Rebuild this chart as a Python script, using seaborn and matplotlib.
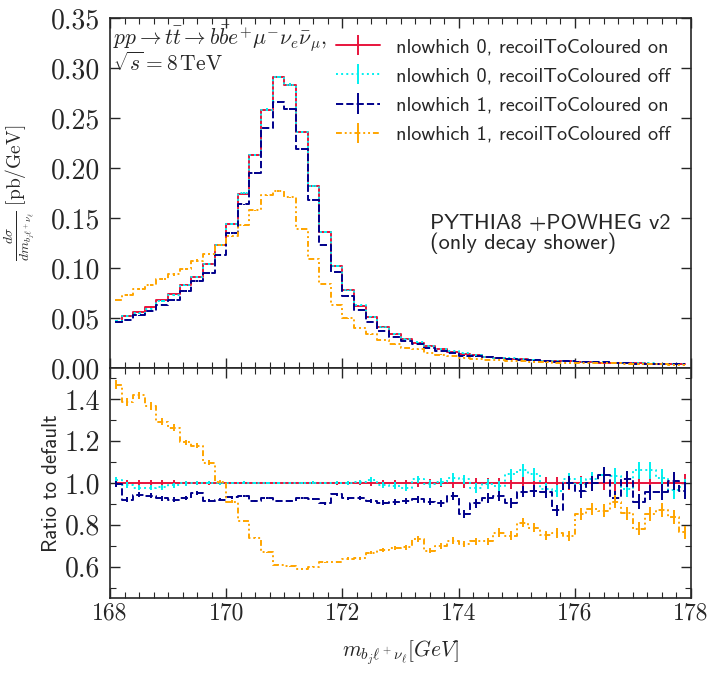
import numpy as np
import pandas as pd
import matplotlib
matplotlib.use("Agg")
import matplotlib.pyplot as plt
from matplotlib.legend_handler import HandlerTuple
from matplotlib.ticker import MultipleLocator
import seaborn as sns

# 50 bins of 0.2 GeV between 168 and 178, values at the bin centres
mass = np.linspace(168.1, 177.9, 50)

# default sample (nlowhich 0, recoilToColoured on), pb/GeV
nominal = [0.0463, 0.0523, 0.0558, 0.0608, 0.0685, 0.0740, 0.0827, 0.0912, 0.1040, 0.1226,
           0.1444, 0.1745, 0.2133, 0.2580, 0.2910, 0.2835, 0.2360, 0.1820, 0.1360, 0.1020,
           0.0777, 0.0625, 0.0507, 0.0412, 0.0345, 0.0295, 0.0255, 0.0220, 0.0190, 0.0165,
           0.0145, 0.0128, 0.0114, 0.0103, 0.0094, 0.0086, 0.0080, 0.0075, 0.0070, 0.0066,
           0.0062, 0.0058, 0.0055, 0.0052, 0.0049, 0.0046, 0.0044, 0.0042, 0.0040, 0.0038]

# ratios to default
ratio_n0_off = [1.015, 0.990, 0.978, 0.977, 0.979, 0.990, 0.998, 1.000, 1.002, 1.000,
                1.000, 1.002, 0.999, 1.001, 1.000, 1.000, 0.999, 1.002, 1.000, 1.001,
                1.000, 1.003, 1.015, 0.990, 0.988, 0.978, 1.017, 0.994, 1.006, 1.025,
                1.017, 0.978, 0.994, 0.986, 1.041, 1.060, 1.041, 0.970, 0.962, 1.017,
                0.994, 1.020, 1.040, 1.033, 0.970, 1.060, 1.060, 1.025, 0.965, 0.980]
ratio_n1_on = [0.995, 0.921, 0.943, 0.940, 0.927, 0.921, 0.927, 0.951, 0.916, 0.921,
               0.932, 0.937, 0.916, 0.930, 0.914, 0.914, 0.927, 0.922, 0.902, 0.946,
               0.927, 0.930, 0.914, 0.906, 0.910, 0.914, 0.922, 0.911, 0.902, 0.938,
               0.851, 0.902, 0.927, 0.938, 0.906, 0.959, 0.962, 0.955, 0.870, 1.002,
               0.962, 0.998, 1.038, 0.927, 1.018, 0.911, 0.955, 0.955, 1.010, 0.963]
ratio_n1_off = [1.471, 1.387, 1.419, 1.368, 1.294, 1.265, 1.194, 1.178, 1.098, 1.006,
                0.911, 0.817, 0.739, 0.669, 0.608, 0.602, 0.589, 0.600, 0.620, 0.620,
                0.638, 0.640, 0.667, 0.679, 0.688, 0.692, 0.732, 0.676, 0.700, 0.724,
                0.708, 0.721, 0.721, 0.763, 0.748, 0.811, 0.787, 0.750, 0.763, 0.745,
                0.852, 0.875, 0.867, 0.911, 0.855, 0.782, 0.852, 0.871, 0.836, 0.764]

# relative statistical uncertainty per bin
rel_err = [0.014, 0.014, 0.013, 0.013, 0.012, 0.012, 0.011, 0.010, 0.009, 0.008,
           0.007, 0.006, 0.005, 0.005, 0.004, 0.004, 0.005, 0.006, 0.007, 0.008,
           0.009, 0.010, 0.012, 0.013, 0.015, 0.016, 0.018, 0.019, 0.020, 0.022,
           0.023, 0.024, 0.025, 0.026, 0.027, 0.028, 0.029, 0.030, 0.031, 0.032,
           0.033, 0.034, 0.035, 0.036, 0.037, 0.038, 0.039, 0.040, 0.041, 0.042]

labels = ["nlowhich 0, recoilToColoured on", "nlowhich 0, recoilToColoured off",
          "nlowhich 1, recoilToColoured on", "nlowhich 1, recoilToColoured off"]
colors = ["#e8143c", "#00f0f0", "#00008b", "#ffa500"]
styles = ["-", ":", "--", (0, (3, 1.5, 1, 1.5, 1, 1.5))]

sns.set_style("ticks")
plt.rcParams["font.family"] = ["cmr10", "DejaVu Sans"]
plt.rcParams["mathtext.fontset"] = "cm"
plt.rcParams["axes.formatter.use_mathtext"] = True
sans = "cmss10"

fig = plt.figure(figsize=(7.23, 6.80), dpi=100)
ax = fig.add_axes([110 / 723, 312 / 680, 581 / 723, 350 / 680])
rax = fig.add_axes([110 / 723, 82 / 680, 581 / 723, 230 / 680], sharex=ax)

nom = np.array(nominal)
err = np.array(rel_err)
ratios = [np.ones(50), np.array(ratio_n0_off), np.array(ratio_n1_on), np.array(ratio_n1_off)]

handles = []
for lab, c, ls, r in zip(labels, colors, styles, ratios):
    # the lower panel is series / default, so the series itself is default * ratio
    vals = nom * r
    df = pd.DataFrame({"m": mass, "y": vals, "r": r})
    sns.lineplot(data=df, x="m", y="y", ax=ax, drawstyle="steps-mid", color=c,
                 linestyle=ls, lw=1.4, errorbar=None)
    line = ax.lines[-1]
    eb = ax.errorbar(mass, vals, yerr=vals * err, fmt="none", ecolor=c, elinewidth=1.4)
    sns.lineplot(data=df, x="m", y="r", ax=rax, drawstyle="steps-mid", color=c,
                 linestyle=ls, lw=1.4, errorbar=None)
    rax.errorbar(mass, r, yerr=r * err, fmt="none", ecolor=c, elinewidth=1.4)
    handles.append((line, eb))

ax.legend(handles, labels, handler_map={tuple: HandlerTuple(ndivide=1)},
          loc="upper right", frameon=False, prop={"family": sans, "size": 14.5},
          handlelength=2.2, handletextpad=0.8, labelspacing=0.55, borderaxespad=0.6)

ax.text(0.006, 0.985, r"$pp \to t\bar{t} \to b\bar{b}e^{+}\mu^{-}\nu_{e}\bar{\nu}_{\mu},$",
        transform=ax.transAxes, fontsize=15.5, va="top", ha="left")
ax.text(0.006, 0.905, r"$\sqrt{s} = 8\,\mathrm{TeV}$",
        transform=ax.transAxes, fontsize=15.5, va="top", ha="left")
ax.text(0.551, 0.44, "PYTHIA8 +POWHEG v2\n(only decay shower)", transform=ax.transAxes,
        fontsize=16, family=sans, va="top", ha="left", linespacing=0.95)

ax.set_xlim(168, 178)
ax.set_ylim(0, 0.35)
rax.set_ylim(0.45, 1.55)
ax.yaxis.set_major_locator(MultipleLocator(0.05))
ax.xaxis.set_major_locator(MultipleLocator(2))
ax.xaxis.set_minor_locator(MultipleLocator(0.25))
rax.yaxis.set_major_locator(MultipleLocator(0.2))
rax.yaxis.set_minor_locator(MultipleLocator(0.1))
ax.yaxis.set_major_formatter(plt.FormatStrFormatter("%.2f"))
rax.yaxis.set_major_formatter(plt.FormatStrFormatter("%.1f"))
rax.xaxis.set_major_formatter(plt.FormatStrFormatter("%d"))
for a in (ax, rax):
    a.tick_params(which="both", direction="in", top=True, right=True)
    a.tick_params(axis="y", labelsize=20, pad=7)
    a.tick_params(axis="x", labelsize=17)
    a.tick_params(which="major", length=7, width=1)
    a.tick_params(which="minor", length=4, width=0.8)
    for s in a.spines.values():
        s.set_linewidth(1.2)
ax.tick_params(labelbottom=False)

ax.set_xlabel("")
ax.set_ylabel(r"$\frac{d\sigma}{dm_{b_j\ell^+\nu_\ell}}\;[\mathrm{pb/GeV}]$", fontsize=14)
ax.yaxis.set_label_coords(-0.125, 0.5)
rax.set_ylabel("Ratio to default", family=sans, fontsize=15)
rax.yaxis.set_label_coords(-0.085, 0.5)
rax.set_xlabel(r"$m_{b_j\ell^+\nu_\ell} [GeV]$", fontsize=15.5, labelpad=10)

fig.savefig("out.png", dpi=100)
